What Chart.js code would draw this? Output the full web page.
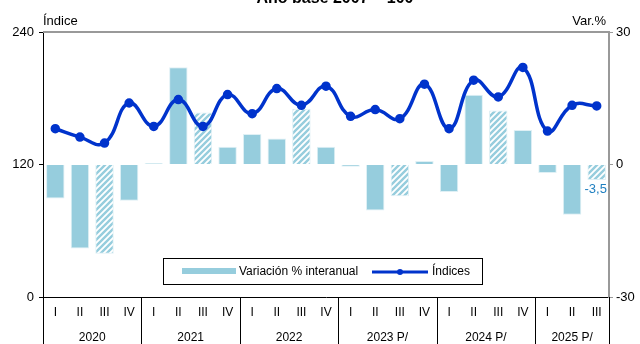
<!DOCTYPE html>
<html>
<head>
<meta charset="utf-8">
<script src="https://cdn.jsdelivr.net/npm/chart.js@4.4.1/dist/chart.umd.min.js"></script>
<style>
  html, body { margin: 0; padding: 0; background: #fff; }
  #chart { display: block; }
</style>
</head>
<body>
<canvas id="chart" width="640" height="344"></canvas>
<script>
const quarters = ["I", "II", "III", "IV", "I", "II", "III", "IV", "I", "II", "III", "IV",
  "I", "II", "III", "IV", "I", "II", "III", "IV", "I", "II", "III"];
const years = ["2020", "2021", "2022", "2023 P/", "2024 P/", "2025 P/"];
const indexValues = [152.4, 144.8, 139.4, 175.7, 154.5, 178.8, 154.5, 183.3, 166.0, 188.8, 173.6, 190.9,
  163.6, 169.7, 161.5, 192.7, 152.4, 196.4, 181.2, 207.9, 150.3, 173.6, 173.0];
const variationValues = [-7.7, -19.0, -20.2, -8.2, 0.3, 22.0, 11.8, 4.0, 6.9, 5.9, 12.6, 4.0,
  -0.5, -10.4, -7.2, 0.8, -6.2, 15.8, 12.2, 7.8, -1.9, -11.4, -3.5];
const indexTicks = [0, 120, 240];
const variationTicks = [-30, 0, 30];

const font = "'Liberation Sans', Arial, sans-serif";
const barColor = "#96cddd";
const lineColor = "#0033cc";

function makeHatch() {
  const c = document.createElement("canvas");
  c.width = 6;
  c.height = 6;
  const g = c.getContext("2d");
  g.fillStyle = "#ffffff";
  g.fillRect(0, 0, 6, 6);
  g.strokeStyle = barColor;
  g.lineWidth = 2.4;
  g.beginPath();
  g.moveTo(-1, 7); g.lineTo(7, -1);
  g.moveTo(-4, 4); g.lineTo(4, -4);
  g.moveTo(2, 10); g.lineTo(10, 2);
  g.stroke();
  return g.createPattern(c, "repeat");
}

const hatch = makeHatch();
const barFills = quarters.map((q) => (q === "III" ? hatch : barColor));

// axis titles, top border, category labels, year separators, legend, data label
const decorations = {
  id: "decorations",
  afterDraw(chart) {
    const ctx = chart.ctx;
    const area = chart.chartArea;
    const xScale = chart.scales.x;
    ctx.save();

    ctx.fillStyle = "#000";
    ctx.font = "bold 16px " + font;
    ctx.textAlign = "center";
    ctx.textBaseline = "alphabetic";
    ctx.fillText("Año base 2007 = 100", 335, 3);

    ctx.font = "13px " + font;
    ctx.textAlign = "left";
    ctx.textBaseline = "middle";
    ctx.fillText("Índice", 43, 21);
    ctx.textAlign = "right";
    ctx.fillText("Var.%", 606, 21);

    ctx.strokeStyle = "#999";
    ctx.lineWidth = 2;
    ctx.beginPath();
    ctx.moveTo(area.left, area.top);
    ctx.lineTo(area.right, area.top);
    ctx.stroke();

    // quarter labels
    ctx.font = "12px " + font;
    ctx.textAlign = "center";
    ctx.fillStyle = "#000";
    quarters.forEach((q, i) => {
      ctx.fillText(q, xScale.getPixelForValue(i), area.bottom + 16);
    });

    // year labels and separators
    ctx.strokeStyle = "#000";
    ctx.lineWidth = 1;
    let start = 0;
    years.forEach((y, k) => {
      const end = Math.min(start + 3, quarters.length - 1);
      const left = k === 0 ? area.left : (xScale.getPixelForValue(start - 1) + xScale.getPixelForValue(start)) / 2;
      const right = end === quarters.length - 1 ? area.right : (xScale.getPixelForValue(end) + xScale.getPixelForValue(end + 1)) / 2;
      ctx.fillText(y, (left + right) / 2, area.bottom + 41);
      ctx.beginPath();
      ctx.moveTo(Math.round(right) + 0.5, area.bottom);
      ctx.lineTo(Math.round(right) + 0.5, chart.height);
      ctx.stroke();
      start += 4;
    });
    ctx.beginPath();
    ctx.moveTo(Math.round(area.left) + 0.5, area.bottom);
    ctx.lineTo(Math.round(area.left) + 0.5, chart.height);
    ctx.stroke();

    // label for the last bar
    const last = variationValues.length - 1;
    const barMeta = chart.getDatasetMeta(0).data[last];
    ctx.fillStyle = "#1f7fc0";
    ctx.font = "13px " + font;
    ctx.textAlign = "right";
    ctx.fillText(String(variationValues[last]).replace(".", ","), barMeta.x + barMeta.width / 2 + 1, barMeta.y + 9);

    // legend box
    ctx.fillStyle = "#fff";
    ctx.fillRect(163, 258, 319, 26);
    ctx.strokeStyle = "#000";
    ctx.lineWidth = 1;
    ctx.strokeRect(163.5, 258.5, 319, 26);
    ctx.fillStyle = barColor;
    ctx.fillRect(182, 268, 54, 6);
    ctx.fillStyle = "#000";
    ctx.font = "12px " + font;
    ctx.textAlign = "left";
    ctx.fillText("Variación % interanual", 239, 272);
    ctx.strokeStyle = lineColor;
    ctx.lineWidth = 3;
    ctx.beginPath();
    ctx.moveTo(372, 272);
    ctx.lineTo(428, 272);
    ctx.stroke();
    ctx.fillStyle = lineColor;
    ctx.beginPath();
    ctx.arc(400, 272, 3, 0, Math.PI * 2);
    ctx.fill();
    ctx.fillStyle = "#000";
    ctx.fillText("Índices", 432, 272);

    ctx.restore();
  }
};

new Chart(document.getElementById("chart"), {
  data: {
    labels: quarters,
    datasets: [
      {
        type: "bar",
        label: "Variación % interanual",
        data: variationValues,
        yAxisID: "y1",
        backgroundColor: barFills,
        borderColor: "#dff0f5",
        borderWidth: 1,
        barPercentage: 0.75,
        categoryPercentage: 1,
        order: 2
      },
      {
        type: "line",
        label: "Índices",
        data: indexValues,
        yAxisID: "y",
        borderColor: lineColor,
        backgroundColor: lineColor,
        borderWidth: 3.5,
        pointRadius: 3,
        pointBackgroundColor: lineColor,
        tension: 0.45,
        order: 1
      }
    ]
  },
  options: {
    responsive: false,
    animation: false,
    layout: { padding: { top: 32, left: 0, right: 0, bottom: 0 } },
    plugins: {
      legend: { display: false },
      tooltip: { enabled: false }
    },
    scales: {
      x: {
        ticks: { display: false },
        grid: { display: false },
        border: { display: true, color: "#000", width: 1 },
        afterFit(scale) { scale.height = 47; }
      },
      y: {
        position: "left",
        min: 0,
        max: 240,
        afterBuildTicks(scale) { scale.ticks = indexTicks.map((v) => ({ value: v })); },
        ticks: { color: "#000", font: { family: font, size: 13 }, padding: 5 },
        grid: { drawOnChartArea: false, drawTicks: true, tickLength: 4, color: "#000" },
        border: { display: true, color: "#000", width: 1 },
        afterFit(scale) { scale.width = 43; }
      },
      y1: {
        position: "right",
        min: -30,
        max: 30,
        afterBuildTicks(scale) { scale.ticks = variationTicks.map((v) => ({ value: v })); },
        ticks: { color: "#000", font: { family: font, size: 13 }, padding: 3 },
        grid: { drawOnChartArea: false, drawTicks: true, tickLength: 4, color: "#999" },
        border: { display: true, color: "#999", width: 2 },
        afterFit(scale) { scale.width = 31; }
      }
    }
  },
  plugins: [decorations]
});
</script>
</body>
</html>
